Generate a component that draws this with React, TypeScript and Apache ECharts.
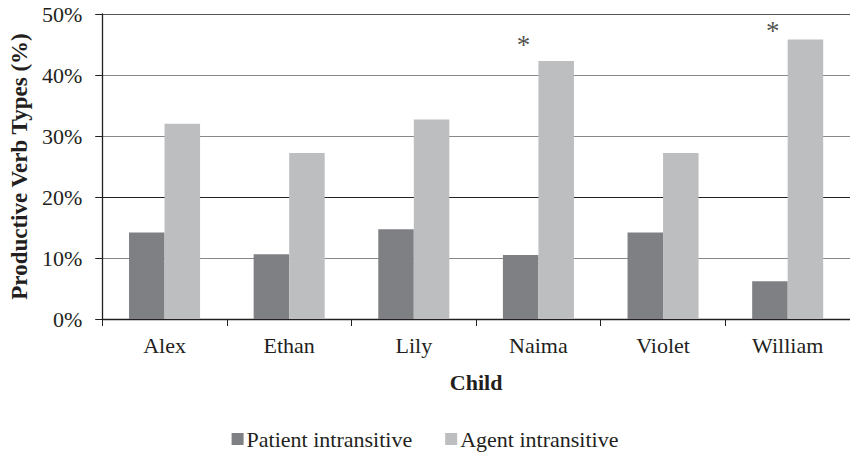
import React, { useEffect, useRef } from "react";
import * as echarts from "echarts";

const categories = ["Alex", "Ethan", "Lily", "Naima", "Violet", "William"];
const patientIntransitive = [14.2, 10.6, 14.7, 10.5, 14.2, 6.2];
const agentIntransitive = [32.0, 27.2, 32.7, 42.3, 27.2, 45.8];
// significance markers (asterisk heights, in %)
const asteriskValues: (number | null)[] = [null, null, null, 45.2, null, 47.5];
const yTicks = [0, 10, 20, 30, 40, 50];

const FONT = "'Liberation Serif', 'Times New Roman', serif";
const TEXT = "#231f20";

export default function App() {
  const ref = useRef<HTMLDivElement>(null);
  useEffect(() => {
    if (!ref.current) return;
    const chart = echarts.init(ref.current, undefined, { renderer: "svg" });
    chart.setOption({
      animation: false,
      textStyle: { fontFamily: FONT, color: TEXT },
      grid: { left: 99, right: 0, top: 14, bottom: 137, containLabel: false },
      legend: {
        data: ["Patient intransitive", "Agent intransitive"],
        top: 423,
        left: "center",
        icon: "rect",
        itemWidth: 12,
        itemHeight: 12,
        itemGap: 33,
        textStyle: { fontFamily: FONT, fontSize: 22, color: TEXT, padding: [0, 0, 0, -2] },
      },
      xAxis: {
        type: "category",
        data: categories,
        name: "Child",
        nameLocation: "middle",
        nameGap: 52,
        nameTextStyle: { fontFamily: FONT, fontSize: 22, fontWeight: "bold", color: TEXT },
        axisLine: { lineStyle: { color: "#231f20", width: 1.3 } },
        axisTick: { show: true, length: 7, lineStyle: { color: "#231f20" } },
        axisLabel: { fontFamily: FONT, fontSize: 22, color: TEXT, margin: 15 },
      },
      yAxis: {
        type: "value",
        min: yTicks[0],
        max: yTicks[yTicks.length - 1],
        interval: 10,
        name: "Productive Verb Types (%)",
        nameLocation: "middle",
        nameGap: 67,
        nameTextStyle: { fontFamily: FONT, fontSize: 23, fontWeight: "bold", color: TEXT },
        axisLine: { show: true, lineStyle: { color: "#231f20", width: 1.3 } },
        axisTick: { show: true, length: 7, lineStyle: { color: "#231f20" } },
        axisLabel: {
          fontFamily: FONT,
          fontSize: 22,
          color: TEXT,
          margin: 20,
          formatter: (v: number) => `${v}%`,
        },
        splitLine: {
          show: true,
          lineStyle: {
            color: ["#888888", "#888888", "#222222", "#888888", "#888888", "#555555"],
            width: 1.2,
          },
        },
      },
      series: [
        {
          name: "Patient intransitive",
          type: "bar",
          data: patientIntransitive,
          barGap: "0%",
          barCategoryGap: "43%",
          itemStyle: { color: "#7f8083" },
        },
        {
          name: "Agent intransitive",
          type: "bar",
          data: agentIntransitive,
          barGap: "0%",
          barCategoryGap: "43%",
          itemStyle: { color: "#bdbec0" },
        },
        {
          name: "significance",
          type: "scatter",
          data: asteriskValues,
          symbolSize: 1,
          itemStyle: { color: "rgba(0,0,0,0)" },
          silent: true,
          label: {
            show: true,
            position: "inside",
            formatter: "*",
            offset: [-15, 2],
            fontFamily: FONT,
            fontSize: 27,
            color: TEXT,
          },
        },
      ],
    });
    return () => chart.dispose();
  }, []);
  return <div ref={ref} style={{ width: 850, height: 456, position: "absolute", left: 0, top: 0 }} />;
}
